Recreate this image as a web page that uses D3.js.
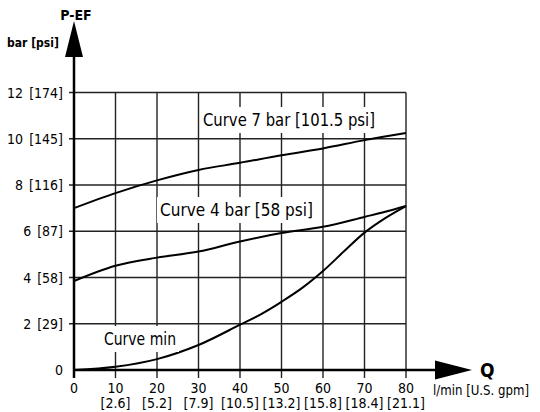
<!DOCTYPE html>
<html>
<head>
<meta charset="utf-8">
<script src="https://cdn.jsdelivr.net/npm/d3@7"></script>
<style>
  body { margin: 0; background: #fff; }
  svg { display: block; }
  text { font-family: "Liberation Sans Narrow", "DejaVu Sans Condensed", "DejaVu Sans", sans-serif; fill: #000; }
</style>
</head>
<body>
<svg id="chart" width="540" height="412"></svg>
<script>
// flow values (l/min) and their gpm labels
let qTicks = [0, 10, 20, 30, 40, 50, 60, 70, 80];
let gpmLabels = ["", "[2.6]", "[5.2]", "[7.9]", "[10.5]", "[13.2]", "[15.8]", "[18.4]", "[21.1]"];
// pressure ticks (bar) and psi labels
let pTicks = [0, 2, 4, 6, 8, 10, 12];
let psiLabels = ["", "[29]", "[58]", "[87]", "[116]", "[145]", "[174]"];

// curves
let q7 = [0, 10, 20, 30, 40, 50, 60, 70, 80];
let curve7 = [7.0, 7.65, 8.2, 8.65, 8.96, 9.29, 9.58, 9.94, 10.25];
let q4 = [0, 10, 20, 30, 40, 50, 60, 70, 75, 80];
let curve4 = [3.85, 4.51, 4.86, 5.12, 5.56, 5.92, 6.19, 6.62, 6.84, 7.09];
let qMin = [0, 10, 20, 30, 40, 45, 50, 55, 60, 65, 70, 75, 80];
let curveMin = [0, 0.14, 0.47, 1.08, 1.96, 2.41, 2.95, 3.55, 4.28, 5.12, 5.94, 6.57, 7.09];

let svg = d3.select('#chart');

let x = d3.scaleLinear().domain([0, 80]).range([74, 406]);
let y = d3.scaleLinear().domain([0, 12]).range([370, 92.5]);

// grid
svg.selectAll('.vgrid')
  .data(qTicks.slice(1))
  .join('line')
  .attr('x1', d => x(d)).attr('x2', d => x(d))
  .attr('y1', y(12)).attr('y2', 378)
  .attr('stroke', '#222').attr('stroke-width', 1.4);

svg.selectAll('.hgrid')
  .data(pTicks.slice(1))
  .join('line')
  .attr('x1', 69).attr('x2', x(80))
  .attr('y1', d => y(d)).attr('y2', d => y(d))
  .attr('stroke', '#222').attr('stroke-width', 1.4);

// y tick labels
svg.selectAll('.ylab')
  .data(pTicks)
  .join('text')
  .attr('x', 63)
  .attr('y', d => y(d) + 5)
  .attr('text-anchor', 'end')
  .style('font-size', '14px')
  .style('word-spacing', '2px')
  .text((d, i) => psiLabels[i] ? d + ' ' + psiLabels[i] : d);

// x tick labels
svg.selectAll('.xlab')
  .data(qTicks)
  .join('text')
  .attr('x', d => x(d))
  .attr('y', 393)
  .attr('text-anchor', 'middle')
  .style('font-size', '14px')
  .text(d => d);

svg.selectAll('.xlab2')
  .data(qTicks)
  .join('text')
  .attr('x', d => x(d))
  .attr('y', 408)
  .attr('text-anchor', 'middle')
  .style('font-size', '14px')
  .text((d, i) => gpmLabels[i]);

// curves
let line = d3.line().curve(d3.curveCatmullRom.alpha(0.5));

function drawCurve(qs, ps) {
  svg.append('path')
    .attr('d', line(qs.map((q, i) => [x(q), y(ps[i])])))
    .attr('fill', 'none')
    .attr('stroke', '#000')
    .attr('stroke-width', 2);
}
drawCurve(q7, curve7);
drawCurve(q4, curve4);
drawCurve(qMin, curveMin);

// curve labels with white boxes
function curveLabel(txt, cx, cy, w) {
  svg.append('rect')
    .attr('x', cx - w / 2 - 3).attr('y', cy - 13)
    .attr('width', w + 6).attr('height', 26)
    .attr('fill', '#fff');
  svg.append('text')
    .attr('x', cx - w / 2).attr('y', cy + 6)
    .attr('textLength', w).attr('lengthAdjust', 'spacingAndGlyphs')
    .style('font-size', '17px')
    .text(txt);
}
curveLabel('Curve 7 bar [101.5 psi]', 289, 120, 172);
curveLabel('Curve 4 bar [58 psi]', 236.5, 210, 153);
curveLabel('Curve min', 140, 339, 72);

// axes
svg.append('line')
  .attr('x1', x(0)).attr('x2', 440)
  .attr('y1', y(0)).attr('y2', y(0))
  .attr('stroke', '#000').attr('stroke-width', 2.5);
svg.append('line')
  .attr('x1', x(0)).attr('x2', x(0))
  .attr('y1', 378).attr('y2', 50)
  .attr('stroke', '#000').attr('stroke-width', 2.5);

// arrow heads
svg.append('path')
  .attr('d', `M${x(0)},21 L${x(0) - 9},57 L${x(0) + 9},57 Z`)
  .attr('fill', '#000');
svg.append('path')
  .attr('d', `M472,${y(0)} L435,${y(0) - 9.5} L435,${y(0) + 9.5} Z`)
  .attr('fill', '#000');

// axis titles
svg.append('text')
  .attr('x', 76).attr('y', 20)
  .attr('text-anchor', 'middle')
  .style('font-size', '14px').style('font-weight', 'bold')
  .text('P-EF');
svg.append('text')
  .attr('x', 33).attr('y', 47)
  .attr('text-anchor', 'middle')
  .style('font-size', '12px').style('font-weight', 'bold')
  .text('bar [psi]');
svg.append('text')
  .attr('x', 480).attr('y', 377)
  .style('font-size', '19px').style('font-weight', 'bold')
  .text('Q');
svg.append('text')
  .attr('x', 433).attr('y', 395)
  .attr('textLength', 96).attr('lengthAdjust', 'spacingAndGlyphs')
  .style('font-size', '14px')
  .text('l/min [U.S. gpm]');
</script>
</body>
</html>
